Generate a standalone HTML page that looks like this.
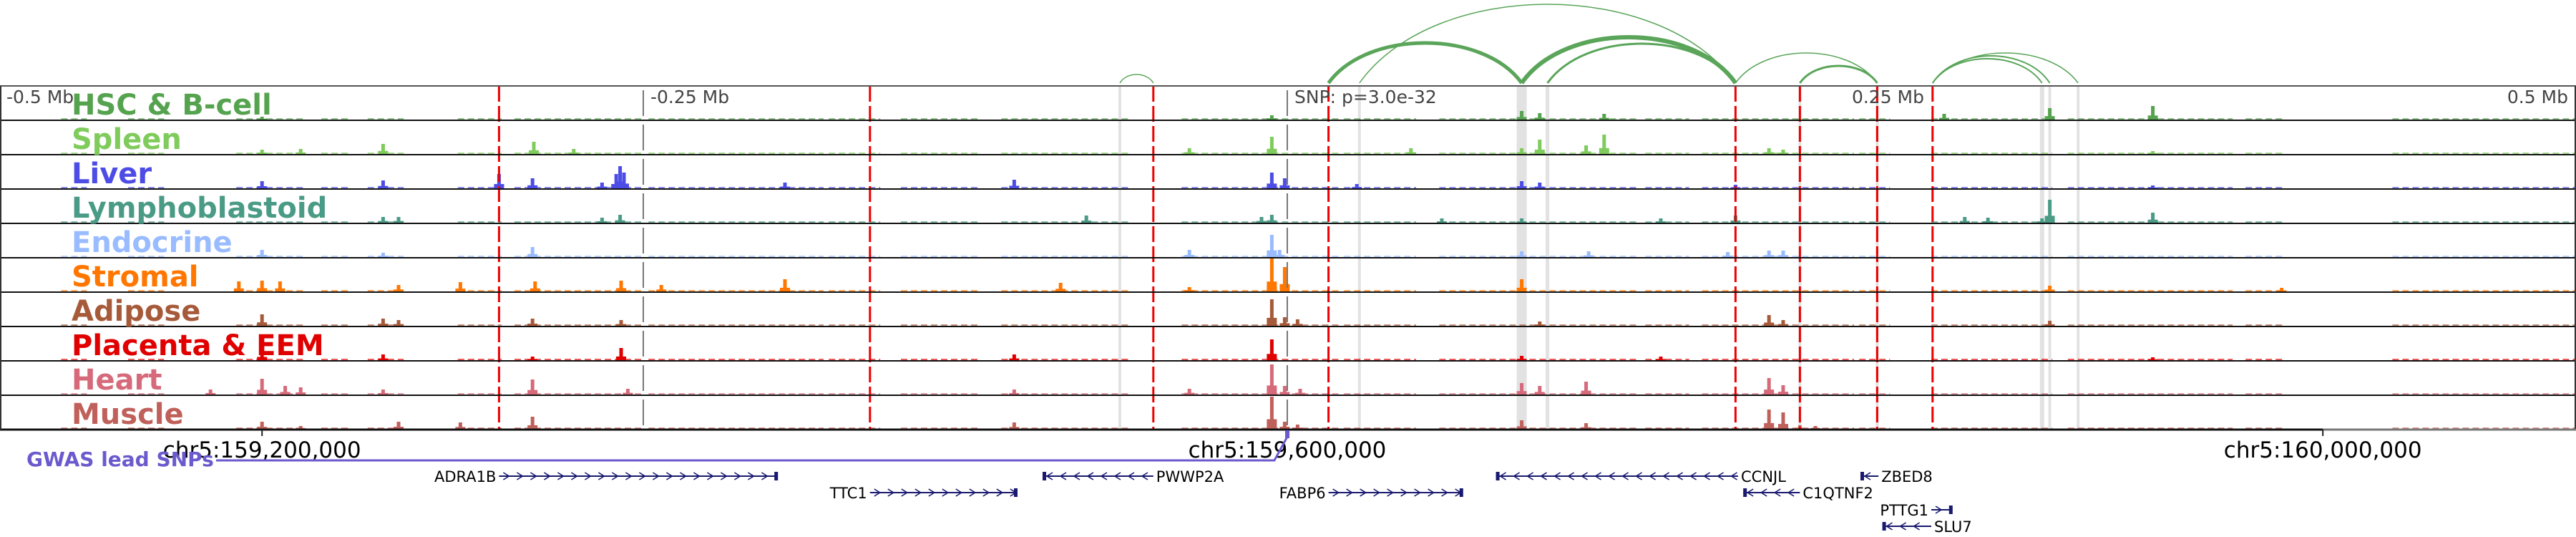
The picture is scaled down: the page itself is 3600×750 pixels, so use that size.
<!DOCTYPE html>
<html><head><meta charset="utf-8">
<style>
html,body{margin:0;padding:0;background:#fff;}
svg{display:block;}
text{font-family:"DejaVu Sans","Liberation Sans",sans-serif;}
</style></head>
<body>
<svg id="chart" width="3600" height="750" viewBox="0 0 3600 750" xmlns="http://www.w3.org/2000/svg">
<rect x="0" y="0" width="3600" height="750" fill="#fff"/>
<g id="arcs"></g>
<g id="bands"></g>
<g id="signals"></g>
<g id="vlines"></g>
<g id="frames"></g>
<g id="labels"></g>
<g id="axis"></g>
<g id="genes"></g>
</svg>
<script>
// ---- data (positions in kb relative to lead SNP) ----
const trackNames=["HSC & B-cell","Spleen","Liver","Lymphoblastoid","Endocrine","Stromal","Adipose","Placenta & EEM","Heart","Muscle"];
const trackColors=["#55a34f","#7fcb5c","#4d4de6","#4a9b85","#99bbff","#ff7700","#a65a3a","#e00000","#d66a7a","#c0605a"];
const hscPeaks=[[-398,4],[-6,6],[91,12],[98,9],[123,8],[255,8],[296,16],[336,19]];
const spleenPeaks=[[-398,6],[-383,7],[-351,14],[-292.5,17],[-277,7],[-38,8],[-6,24],[48,8],[91,8],[98,20],[116,12],[123,27],[187,8],[192.5,6],[336,4]];
const liverPeaks=[[-398,10],[-351,11],[-306,20],[-293,14],[-266,8],[-260.5,20],[-259,31],[-257.5,22],[-195,8],[-106,12],[-6,22],[-1,14],[27,6],[91,10],[98,8],[174,5],[336,4]];
const lymphoPeaks=[[-351,8],[-345,8],[-266,7],[-259,11],[-78,10],[-10,8],[-6,11],[60,6],[91,6],[145,6],[174,10],[263,8],[272,7],[293,6],[296,32],[336,14]];
const endoPeaks=[[-398,10],[-351,6],[-293,14],[-38,10],[-6,31],[-3,10],[91,8],[117,8],[171,7],[187,9],[192.5,9]];
const stromalPeaks=[[-407,14],[-398,15],[-391,14],[-345,9],[-321,13],[-292,14],[-258.6,15],[-243,9],[-195,17],[-88,12],[-38,6],[-6,46],[-1,34],[91,17],[296,8],[386,5]];
const adiposePeaks=[[-398,16],[-351,10],[-345,8],[-293,10],[-258.6,8],[-6,37],[-1,12],[4,9],[98,6],[187,15],[192.5,8],[296,7]];
const placentaPeaks=[[-398,15],[-351,8],[-293,5],[-258.6,17],[-106,8],[-6,29],[91,6],[145,5],[336,4]];
const heartPeaks=[[-418,7],[-398,22],[-389,12],[-383,10],[-351,7],[-293,21],[-256,8],[-106,7],[-38,8],[-6,42],[-1,12],[5,8],[91,16],[98,12],[116,18],[187,23],[192.5,13]];
const musclePeaks=[[-398,10],[-383,4],[-345,10],[-321,9],[-293,17],[-106,9],[-6,45],[-1,10],[4,6],[91,12],[116,8],[187,27],[192.5,23],[199,5],[205,4]];
const allPeaks=[hscPeaks,spleenPeaks,liverPeaks,lymphoPeaks,endoPeaks,stromalPeaks,adiposePeaks,placentaPeaks,heartPeaks,musclePeaks];
const bgSegStart=[-476,-450,-408,-375,-357,-322,-300,-248,-178,-150,-111,-41,22,59,139,161,222,250,303,334,372,429];
const bgSegEnd=[-466,-436,-382,-364,-343,-305,-250,-180,-158,-119,-61,20,50,136,156,220,234,297,334,367,387,500];
const redLines=[-306,-162,-52,16,174,199,229,250.5];
const bandPos=[-65,28,91,101,199,229,293,296,307];
const bandWidth=[4,4,14,5,4,4,6,4,4];
const arcStart=[-65,16,28,91,101,174,199,250.5,250.5,250.5];
const arcEnd=[-52,91,174,174,174,229,229,293,296,307];
const arcHeight=[12,56,110,64,55,42,24,34,38,42];
const arcWidth=[1.5,5,1.5,6,3,1.5,3,2,2,1.5];
const axisTickLabels=["-0.5 Mb","-0.25 Mb","SNP: p=3.0e-32","0.25 Mb","0.5 Mb"];
const axisTickKb=[-500,-250,0,250,500];
const chrTickLabels=["chr5:159,200,000","chr5:159,600,000","chr5:160,000,000"];
const chrTickKb=[-398,0,402];
const geneNames=["ADRA1B","TTC1","PWWP2A","FABP6","CCNJL","ZBED8","C1QTNF2","PTTG1","SLU7"];
const geneStart=[-306,-162,-95,16,81,222.5,177,250,231];
const geneEnd=[-198,-105,-52,68,175,229.5,199,258,250];
const geneStrand=[1,1,-1,1,-1,-1,-1,1,-1];
const geneRow=[0,1,0,1,0,0,1,2,3];
const geneLabelSide=["L","L","R","L","R","R","R","L","R"];

// ---- scales ----
const X0=1799, PXKB=3.6;
function xs(kb){return X0+kb*PXKB;}
const TOP=120, TH=48;
const NS="http://www.w3.org/2000/svg";
function mk(tag,attrs,parent){const e=document.createElementNS(NS,tag);for(const k in attrs)e.setAttribute(k,attrs[k]);parent.appendChild(e);return e;}

// arcs
const gArcs=document.getElementById('arcs');
for(let i=0;i<arcStart.length;i++){
  const x1=xs(arcStart[i]),x2=xs(arcEnd[i]),h=arcHeight[i],base=116,w=x2-x1;
  const cy=base-h*4/3;
  const p=mk('path',{d:`M${x1},${base} C${x1+w*0.2},${cy} ${x2-w*0.2},${cy} ${x2},${base}`,fill:'none',stroke:'#5aa55a','stroke-width':arcWidth[i]},gArcs);
  
  
}
// bands
const gB=document.getElementById('bands');
for(let i=0;i<bandPos.length;i++){
  const r=mk('rect',{x:xs(bandPos[i])-bandWidth[i]/2,y:TOP,width:bandWidth[i],height:TH*10,fill:'#e2e2e2'},gB);
  
  
}
// signals
const gS=document.getElementById('signals');
for(let t=0;t<10;t++){
  const base=TOP+TH*(t+1)-1, col=trackColors[t];
  const g=mk('g',{},gS);
  
  
  for(let s=0;s<bgSegStart.length;s++){
    mk('line',{x1:xs(bgSegStart[s]),x2:xs(bgSegEnd[s]),y1:base-1,y2:base-1,stroke:col,'stroke-width':1.5,'stroke-dasharray':'9 5','opacity':0.85},g);
  }
  for(const pk of allPeaks[t]){
    const x=xs(pk[0]),h=Math.min(pk[1],46);
    mk('rect',{x:x-7,y:base-h*0.3,width:14,height:h*0.3,fill:col},g);
    const b=mk('rect',{x:x-2.5,y:base-h,width:5,height:h,fill:col},g);
    
    
  }
}
// vertical marker lines
const gV=document.getElementById('vlines');
for(const kb of redLines){
  const l=mk('line',{x1:xs(kb),x2:xs(kb),y1:TOP,y2:TOP+TH*10,stroke:'#ee0000','stroke-width':3,'stroke-dasharray':'22 6'},gV);
  
  
}
for(const kb of [-250,0]){
  const l=mk('line',{x1:xs(kb),x2:xs(kb),y1:TOP,y2:TOP+TH*10,stroke:'#777','stroke-width':2,'stroke-dasharray':'36 12','stroke-dashoffset':'-6'},gV);
  
  
}
// frames
const gF=document.getElementById('frames');
for(let t=0;t<=10;t++){
  const y=TOP+TH*t;
  mk('line',{x1:0,x2:3600,y1:y,y2:y,stroke:t==0?'#555':'#111','stroke-width':t==10?3:2},gF);
}
mk('line',{x1:1,x2:1,y1:TOP,y2:TOP+TH*10,stroke:'#333','stroke-width':2},gF);
mk('line',{x1:3599,x2:3599,y1:TOP,y2:TOP+TH*10,stroke:'#333','stroke-width':2},gF);
// labels
const gL=document.getElementById('labels');
for(let t=0;t<10;t++){
  const tx=mk('text',{x:100,y:TOP+TH*t+40,fill:trackColors[t],'font-size':40,'font-weight':'bold'},gL);
  tx.textContent=trackNames[t];
  
  
}
// relative axis labels
for(let i=0;i<axisTickLabels.length;i++){
  const kb=axisTickKb[i];let x=xs(kb)+10,anchor='start';
  if(kb>0){x=xs(kb)-10;anchor='end';}
  if(kb==-500)x=9;
  const tx=mk('text',{x:x,y:144,fill:'#444','font-size':25,'text-anchor':anchor},gL);
  tx.textContent=axisTickLabels[i];
  
  
}
// genomic axis
const gA=document.getElementById('axis');
mk('line',{x1:xs(402),x2:3600,y1:600,y2:600,stroke:'#777','stroke-width':3},gA);
for(let i=0;i<chrTickLabels.length;i++){
  const x=xs(chrTickKb[i]);
  mk('line',{x1:x,x2:x,y1:600,y2:609,stroke:'#222','stroke-width':2},gA);
  const tx=mk('text',{x:x,y:639,fill:'#000','font-size':31,'text-anchor':'middle'},gA);
  tx.textContent=chrTickLabels[i];
  
  
}
// GWAS
const gw=mk('polyline',{points:`302,643 ${xs(-5)},643 ${xs(0)},610`,fill:'none',stroke:'#6a5acd','stroke-width':3},gA);


const gb=mk('rect',{x:xs(0)-3,y:601,width:6,height:11,fill:'#6a5acd'},gA);


const gt=mk('text',{x:37,y:651,fill:'#6a5acd','font-size':28,'font-weight':'bold'},gA);
gt.textContent="GWAS lead SNPs";


// genes
const gG=document.getElementById('genes');
const rowY=[665,688,712,735];
for(let i=0;i<geneNames.length;i++){
  const x1=xs(geneStart[i]),x2=xs(geneEnd[i]),y=rowY[geneRow[i]];
  const g=mk('g',{},gG);
  
  
  mk('line',{x1:x1,x2:x2,y1:y,y2:y,stroke:'#191970','stroke-width':2},g);
  const d=geneStrand[i];
  for(let ax=x1+10;ax<x2-4;ax+=19){
    mk('polyline',{points:`${ax-4*d},${y-5} ${ax+4*d},${y} ${ax-4*d},${y+5}`,fill:'none',stroke:'#191970','stroke-width':1.6},g);
  }
  const bx=d>0?x2-4:x1;
  mk('rect',{x:bx,y:y-6,width:5,height:12,fill:'#191970'},g);
  const side=geneLabelSide[i];
  const tx=mk('text',{x:side=='L'?x1-4:x2+4,y:y+8,fill:'#000','font-size':21,'text-anchor':side=='L'?'end':'start'},g);
  tx.textContent=geneNames[i];
  
  
}
</script>
</body></html>
